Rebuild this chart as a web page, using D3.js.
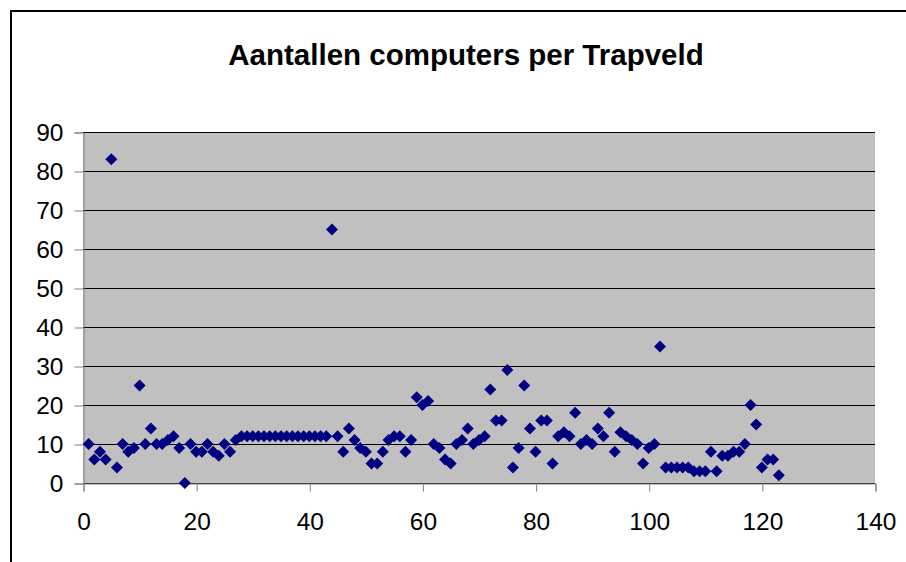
<!DOCTYPE html>
<html>
<head>
<meta charset="utf-8">
<script src="https://cdn.jsdelivr.net/npm/d3@7"></script>
<style>
  body { margin: 0; background: #fff; }
  svg { display: block; font-family: "Liberation Sans", Arial, sans-serif; }
</style>
</head>
<body>
<svg width="906" height="562"></svg>
<script>
// aantal computers per trapveld, index 1..123
var trapveld = d3.range(1, 124);
var computers = [
  10, 6, 8, 6, 83, 4, 10, 8, 9, 25,
  10, 14, 10, 10, 11, 12, 9, 0, 10, 8,
  8, 10, 8, 7, 10, 8, 11, 12, 12, 12,
  12, 12, 12, 12, 12, 12, 12, 12, 12, 12,
  12, 12, 12, 65, 12, 8, 14, 11, 9, 8,
  5, 5, 8, 11, 12, 12, 8, 11, 22, 20,
  21, 10, 9, 6, 5, 10, 11, 14, 10, 11,
  12, 24, 16, 16, 29, 4, 9, 25, 14, 8,
  16, 16, 5, 12, 13, 12, 18, 10, 11, 10,
  14, 12, 18, 8, 13, 12, 11, 10, 5, 9,
  10, 35, 4, 4, 4, 4, 4, 3, 3, 3,
  8, 3, 7, 7, 8, 8, 10, 20, 15, 4,
  6, 6, 2
];
var xTicks = [0, 20, 40, 60, 80, 100, 120, 140];
var yTicks = [0, 10, 20, 30, 40, 50, 60, 70, 80, 90];
var title = "Aantallen computers per Trapveld";

var svg = d3.select("svg");

var x = d3.scaleLinear().domain([0, 140]).range([83, 875]);
var y = d3.scaleLinear().domain([0, 90]).range([483, 132]);

// chart frame
svg.append("rect")
    .attr("x", 11).attr("y", 11)
    .attr("width", 1000).attr("height", 1000)
    .attr("fill", "#fff")
    .attr("stroke", "#000")
    .attr("stroke-width", 2);

svg.append("text")
    .attr("x", 466)
    .attr("y", 65)
    .attr("text-anchor", "middle")
    .attr("font-weight", "bold")
    .attr("font-size", 29.5)
    .text(title);

// plot area
svg.append("rect")
    .attr("x", x(0)).attr("y", y(90))
    .attr("width", x(140) - x(0))
    .attr("height", y(0) - y(90))
    .attr("fill", "#c0c0c0");

svg.append("g")
    .selectAll("line")
    .data(yTicks)
    .enter().append("line")
    .attr("x1", x(0)).attr("x2", x(140))
    .attr("y1", function(d) { return Math.round(y(d)) + 0.5; })
    .attr("y2", function(d) { return Math.round(y(d)) + 0.5; })
    .attr("stroke", "#000")
    .attr("stroke-width", 1);

var yAxis = svg.append("g")
    .attr("transform", "translate(" + (x(0) + 0.5) + ",0.5)")
    .call(d3.axisLeft(y).tickValues(yTicks).tickSize(9).tickPadding(11));

var xAxis = svg.append("g")
    .attr("transform", "translate(0.5," + (y(0) + 0.5) + ")")
    .call(d3.axisBottom(x).tickValues(xTicks).tickSize(8).tickPadding(21));

[yAxis, xAxis].forEach(function(g) {
    g.select(".domain").attr("stroke", "#808080");
    g.selectAll(".tick line").attr("stroke", "#808080");
    g.selectAll("text")
        .attr("font-family", "Liberation Sans, Arial, sans-serif")
        .attr("font-size", 24.5)
        .attr("fill", "#000");
});

svg.append("g")
    .selectAll("path")
    .data(trapveld)
    .enter().append("path")
    .attr("d", d3.symbol(d3.symbolSquare, 72))
    .attr("fill", "#000080")
    .attr("transform", function(d, i) {
        return "translate(" + x(d) + "," + y(computers[i]) + ") rotate(45)";
    });
</script>
</body>
</html>
